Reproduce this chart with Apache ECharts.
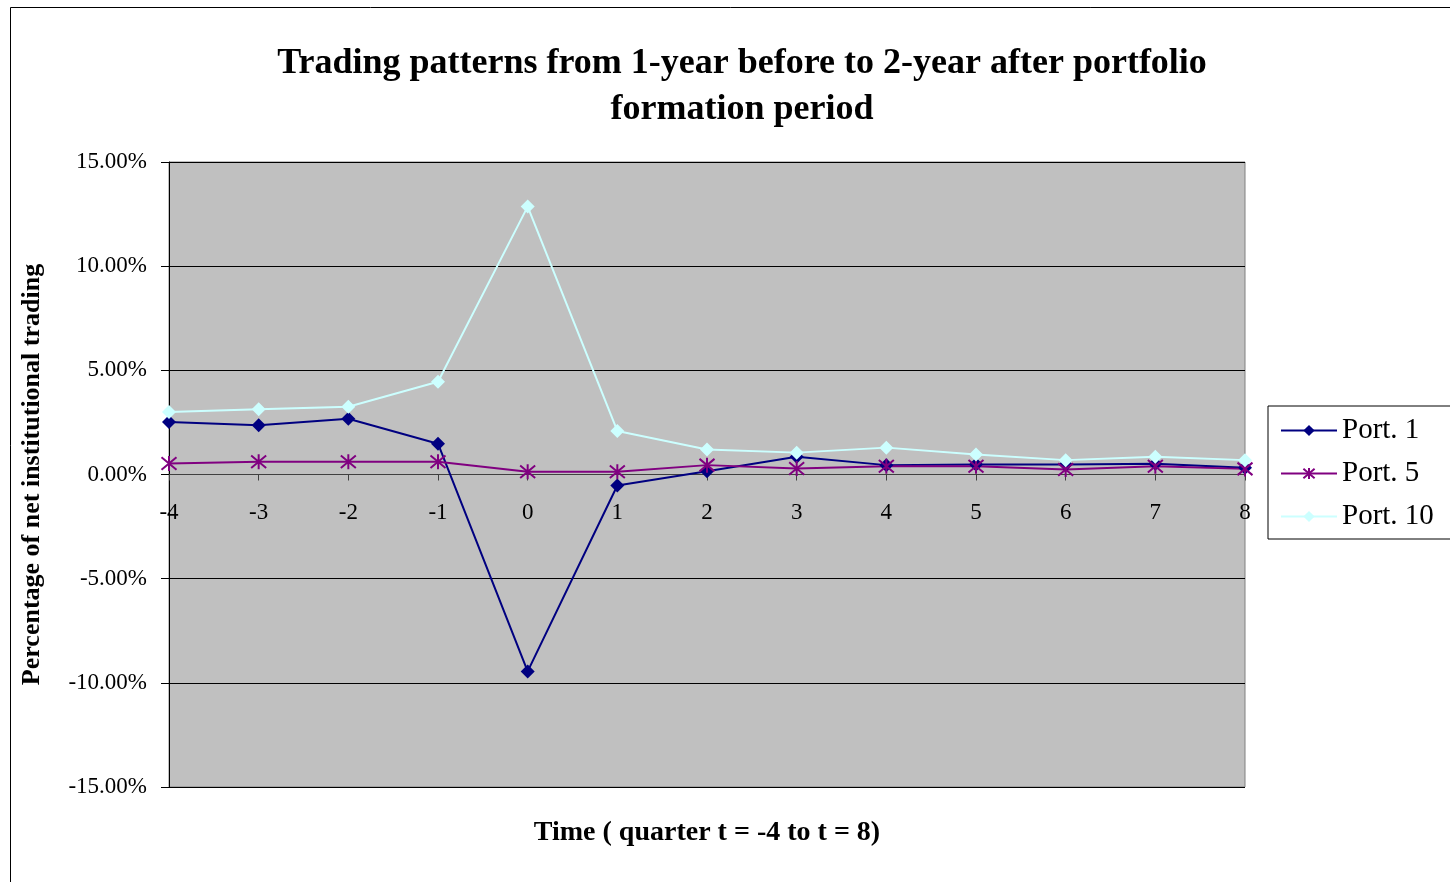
<!DOCTYPE html>
<html>
<head>
<meta charset="utf-8">
<script src="https://cdn.jsdelivr.net/npm/echarts@6/dist/echarts.min.js"></script>
<style>
  html, body { margin: 0; padding: 0; background: #fff; }
  #chart { width: 1450px; height: 882px; }
</style>
</head>
<body>
<div id="chart"></div>
<script>
// 数据 (单位: %)
var quarters = ['-4', '-3', '-2', '-1', '0', '1', '2', '3', '4', '5', '6', '7', '8'];
var port1  = [2.52, 2.36, 2.68, 1.48, -9.45, -0.53, 0.16, 0.85, 0.45, 0.48, 0.48, 0.52, 0.32];
var port5  = [0.53, 0.61, 0.61, 0.61, 0.13, 0.13, 0.45, 0.29, 0.40, 0.40, 0.24, 0.40, 0.27];
var port10 = [3.00, 3.13, 3.25, 4.45, 12.86, 2.09, 1.20, 1.05, 1.29, 0.96, 0.69, 0.85, 0.69];

var serif = '"Liberation Serif", "Times New Roman", serif';
// 星号标记
var asterisk = 'path://M0,0 L10,10 M10,0 L0,10 M5,-1 L5,11';

var myChart = echarts.init(document.getElementById('chart'));
var option = {
  backgroundColor: '#fff',
  animation: false,
  title: {
    text: 'Trading patterns from 1-year before to 2-year after portfolio\nformation period',
    left: 737,
    top: 36,
    textAlign: 'center',
    textStyle: {
      fontFamily: serif,
      fontSize: 36,
      fontWeight: 'bold',
      color: '#000',
      lineHeight: 46
    }
  },
  graphic: [{
    type: 'rect',
    shape: { x: 10.5, y: 7.5, width: 1500, height: 1000 },
    style: { fill: 'none', stroke: '#000', lineWidth: 1 },
    silent: true
  }],
  legend: {
    orient: 'vertical',
    left: 1268,
    top: 406,
    width: 200,
    padding: [10, 40, 8, 12],
    itemGap: 14,
    itemWidth: 56,
    itemHeight: 14,
    backgroundColor: '#fff',
    borderColor: '#000',
    borderWidth: 1,
    borderRadius: 0,
    textStyle: { fontFamily: serif, fontSize: 29, color: '#000' },
    data: ['Port. 1', 'Port. 5', 'Port. 10']
  },
  grid: {
    left: 169,
    top: 162,
    width: 1076,
    height: 625,
    outerBoundsMode: 'none',
    containLabel: false,
    show: true,
    backgroundColor: '#c0c0c0',
    borderColor: '#808080',
    borderWidth: 1
  },
  xAxis: {
    type: 'category',
    data: quarters,
    boundaryGap: false,
    name: 'Time ( quarter t = -4 to t = 8)',
    nameLocation: 'middle',
    nameGap: 32,
    nameTextStyle: { fontFamily: serif, fontSize: 28, fontWeight: 'bold', color: '#000' },
    axisLine: { onZero: true, lineStyle: { color: '#404040', width: 1 } },
    axisTick: { show: true, alignWithLabel: true, length: 6, lineStyle: { color: '#404040' } },
    // 标签放在0线下方
    axisLabel: { fontFamily: serif, fontSize: 23, color: '#000', margin: -286 },
    splitLine: { show: false }
  },
  yAxis: {
    type: 'value',
    min: -15,
    max: 15,
    interval: 5,
    name: 'Percentage of net institutional trading',
    nameLocation: 'middle',
    nameGap: 124,
    nameRotate: 90,
    nameTextStyle: { fontFamily: serif, fontSize: 26, fontWeight: 'bold', color: '#000' },
    axisLine: { show: true, lineStyle: { color: '#000', width: 1 } },
    axisTick: { show: true, length: 8, lineStyle: { color: '#000' } },
    axisLabel: {
      fontFamily: serif, fontSize: 23, color: '#000', margin: 22,
      formatter: function (v) { return v.toFixed(2) + '%'; }
    },
    splitLine: { show: true, lineStyle: { color: '#000', width: 1 } }
  },
  series: [
    {
      name: 'Port. 1',
      type: 'line',
      data: port1,
      color: '#000080',
      symbol: 'diamond',
      symbolSize: 14,
      lineStyle: { width: 2 }
    },
    {
      name: 'Port. 5',
      type: 'line',
      data: port5,
      color: '#800080',
      symbol: asterisk,
      symbolSize: 15,
      itemStyle: { color: 'rgba(0,0,0,0)', borderColor: '#800080', borderWidth: 2 },
      lineStyle: { width: 2, color: '#800080' }
    },
    {
      name: 'Port. 10',
      type: 'line',
      data: port10,
      color: '#ccffff',
      symbol: 'diamond',
      symbolSize: 14,
      lineStyle: { width: 2 }
    }
  ]
};
myChart.setOption(option);
</script>
</body>
</html>
